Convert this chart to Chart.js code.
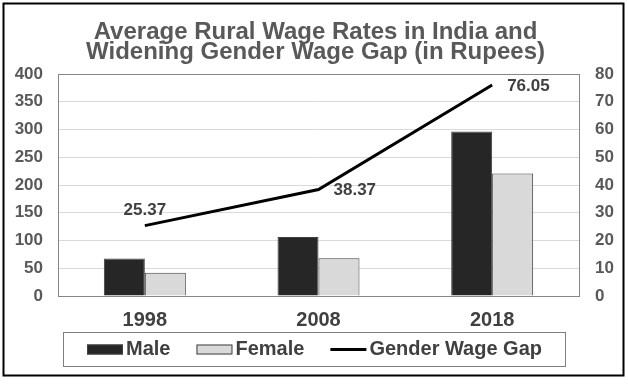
<!DOCTYPE html>
<html>
<head>
<meta charset="utf-8">
<script src="https://cdn.jsdelivr.net/npm/chart.js@4/dist/chart.umd.min.js"></script>
<style>
  body { margin: 0; background: #fff; }
</style>
</head>
<body>
<canvas id="grafico" width="628" height="387"></canvas>
<script>
const anios = ["1998", "2008", "2018"];
const salarioHombre = [67.5, 106.5, 296.5];
const salarioMujer = [42.1, 68.1, 220.5];
const brecha = [25.37, 38.37, 76.05];
const titulo = ["Average Rural Wage Rates in India and", "Widening Gender Wage Gap (in Rupees)"];
const nombres = ["Male", "Female", "Gender Wage Gap"];
// donde va cada etiqueta de la brecha respecto a su punto
const lugarEtiqueta = ["top", "right", "right"];

const fuente = "'Liberation Sans', Arial, sans-serif";

const marco = {
    id: 'marco',
    beforeDraw(chart) {
        const ctx = chart.ctx;
        ctx.save();
        ctx.fillStyle = '#fff';
        ctx.fillRect(0, 0, chart.width, chart.height);
        ctx.restore();
    },
    afterDraw(chart) {
        const ctx = chart.ctx;
        const a = chart.chartArea;
        ctx.save();
        // borde del area de trazado
        ctx.strokeStyle = '#868686';
        ctx.lineWidth = 1;
        ctx.strokeRect(Math.round(a.left) + 0.5, Math.round(a.top) + 0.5,
            Math.round(a.right - a.left), Math.round(a.bottom - a.top));

        // leyenda propia con caja
        ctx.font = "bold 20px " + fuente;
        ctx.textBaseline = 'middle';
        ctx.textAlign = 'left';
        const sw = 36, gapTxt = 3, gapItem = 26;
        const ds = chart.data.datasets;
        let total = 0;
        ds.forEach((d, i) => {
            total += sw + gapTxt + ctx.measureText(d.label).width;
            if (i < ds.length - 1) total += gapItem;
        });
        const cajaW = total + 47;
        const cajaX = Math.round(chart.width / 2 - cajaW / 2);
        const cajaY = Math.round(a.bottom) + 36;
        const cajaH = 34;
        ctx.strokeStyle = '#7f7f7f';
        ctx.strokeRect(cajaX + 0.5, cajaY + 0.5, Math.round(cajaW), cajaH);
        const cy = cajaY + cajaH / 2 + 0.5;
        let x = cajaX + 24;
        ds.forEach((d) => {
            if (d.type === 'line') {
                ctx.strokeStyle = d.borderColor;
                ctx.lineWidth = 3;
                ctx.beginPath();
                ctx.moveTo(x, cy);
                ctx.lineTo(x + sw, cy);
                ctx.stroke();
            } else {
                ctx.fillStyle = d.backgroundColor;
                ctx.fillRect(x, cy - 5, sw, 10);
                ctx.strokeStyle = d.borderColor;
                ctx.lineWidth = 1;
                ctx.strokeRect(x + 0.5, cy - 4.5, sw - 1, 9);
            }
            x += sw + gapTxt;
            ctx.fillStyle = '#404040';
            ctx.fillText(d.label, x, cy);
            x += ctx.measureText(d.label).width + gapItem;
        });

        // borde exterior
        ctx.strokeStyle = '#000';
        ctx.lineWidth = 2;
        ctx.strokeRect(3.5, 3.5, 620, 372);
        ctx.restore();
    }
};

const etiquetas = {
    id: 'etiquetas',
    afterDatasetsDraw(chart) {
        const ctx = chart.ctx;
        const idx = chart.data.datasets.findIndex(d => d.type === 'line');
        const meta = chart.getDatasetMeta(idx);
        ctx.save();
        ctx.font = "bold 17px " + fuente;
        ctx.fillStyle = '#404040';
        ctx.textBaseline = 'middle';
        meta.data.forEach((p, i) => {
            const txt = brecha[i].toFixed(2);
            if (lugarEtiqueta[i] === 'top') {
                ctx.textAlign = 'center';
                ctx.fillText(txt, p.x, p.y - 15);
            } else {
                ctx.textAlign = 'left';
                ctx.fillText(txt, p.x + 15, p.y + 1);
            }
        });
        ctx.restore();
    }
};

const ctx = document.getElementById('grafico').getContext('2d');
const miGrafico = new Chart(ctx, {
    data: {
        labels: anios,
        datasets: [
            {
                type: 'bar',
                label: nombres[0],
                data: salarioHombre,
                backgroundColor: '#262626',
                borderColor: '#404040',
                borderWidth: 1,
                yAxisID: 'y',
                order: 1
            },
            {
                type: 'bar',
                label: nombres[1],
                data: salarioMujer,
                backgroundColor: '#d9d9d9',
                borderColor: '#404040',
                borderWidth: 1,
                yAxisID: 'y',
                order: 1
            },
            {
                type: 'line',
                label: nombres[2],
                data: brecha,
                borderColor: '#000000',
                borderWidth: 3,
                pointRadius: 0,
                tension: 0,
                yAxisID: 'y1',
                order: 0
            }
        ]
    },
    options: {
        responsive: false,
        animation: false,
        devicePixelRatio: 1,
        layout: {
            padding: { left: 8, right: 5, top: 0, bottom: 51 }
        },
        datasets: {
            bar: { categoryPercentage: 0.472, barPercentage: 1 }
        },
        scales: {
            x: {
                grid: { display: false, drawTicks: false },
                border: { display: false },
                ticks: {
                    color: '#404040',
                    padding: 12,
                    font: { family: fuente, size: 20, weight: 'bold' }
                },
                afterFit(s) { s.height = 40; }
            },
            y: {
                position: 'left',
                min: 0,
                max: 400,
                ticks: {
                    stepSize: 50,
                    color: '#595959',
                    padding: 15,
                    font: { family: fuente, size: 17, weight: 'bold' }
                },
                grid: { color: '#d9d9d9', lineWidth: 1, drawTicks: false },
                border: { display: false },
                afterFit(s) { s.width = 50; }
            },
            y1: {
                position: 'right',
                min: 0,
                max: 80,
                ticks: {
                    stepSize: 10,
                    color: '#595959',
                    padding: 16,
                    font: { family: fuente, size: 17, weight: 'bold' }
                },
                grid: { drawOnChartArea: false, drawTicks: false },
                border: { display: false },
                afterFit(s) { s.width = 44; }
            }
        },
        plugins: {
            legend: { display: false },
            tooltip: { enabled: false },
            title: {
                display: true,
                text: titulo,
                color: '#595959',
                font: { family: fuente, size: 24, weight: 'bold', lineHeight: '20px' },
                padding: { top: 22, bottom: 12 }
            }
        }
    },
    plugins: [marco, etiquetas]
});
</script>
</body>
</html>
